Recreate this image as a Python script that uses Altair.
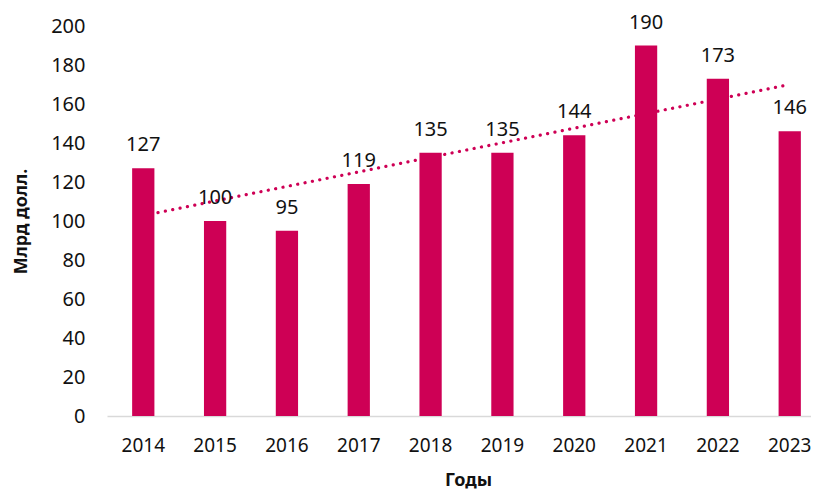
import altair as alt
import pandas as pd

years = ["2014", "2015", "2016", "2017", "2018", "2019", "2020", "2021", "2022", "2023"]
values = [127, 100, 95, 119, 135, 135, 144, 190, 173, 146]
y_ticks = [0, 20, 40, 60, 80, 100, 120, 140, 160, 180, 200]

df = pd.DataFrame({"year": years, "yr": [int(y) for y in years], "value": values})

BAR = "#CE0055"
FONT = "Noto Sans"

xscale = alt.Scale(domain=years, range=[0, 719], paddingInner=0.69, paddingOuter=0.35)
yscale = alt.Scale(domain=[0, 200])

x_enc = alt.X(
    "year:N",
    scale=xscale,
    axis=alt.Axis(
        title="Годы",
        labelAngle=0,
        labelAlign="center",
        labelBaseline="middle",
        labelFontSize=19,
        labelFont=FONT,
        labelColor="#111111",
        labelPadding=29,
        ticks=False,
        domainColor="#D9D9D9",
        domainWidth=1.5,
        titleFont=FONT,
        titleFontSize=18,
        titleFontWeight="bold",
        titleColor="#111111",
        titleX=361,
        titleY=64,
        titleBaseline="middle",
        titleAlign="center",
    ),
)
y_enc = alt.Y(
    "value:Q",
    scale=yscale,
    axis=alt.Axis(
        title="Млрд долл.",
        values=y_ticks,
        grid=False,
        domain=False,
        ticks=False,
        labelOverlap=False,
        labelAlign="right",
        labelBaseline="middle",
        labelFontSize=20,
        labelFont=FONT,
        labelColor="#111111",
        labelPadding=22,
        titleFont=FONT,
        titleFontSize=18,
        titleFontWeight="bold",
        titleColor="#111111",
        titleAngle=-90,
        titleX=-86,
        titleY=195,
        titleAlign="center",
        titleBaseline="middle",
    ),
)

base = alt.Chart(df)

trend = (
    base.transform_regression("yr", "value", extent=[2014, 2023], method="linear")
    .transform_calculate(year="toString(datum.yr)")
    .mark_line(color=BAR, strokeWidth=3.2, strokeDash=[0.1, 7.4], strokeCap="round")
)

bars = base.mark_bar(color=BAR)

labels = base.mark_text(
    font=FONT, fontSize=20, color="#111111", baseline="alphabetic", dy=-17
).encode(text="value:Q")

chart = (
    alt.layer(trend, bars, labels)
    .encode(x=x_enc, y=y_enc)
    .properties(
        width=704,
        height=390,
        padding={"left": 99, "top": 18, "right": 0, "bottom": 76},
        autosize=alt.AutoSizeParams(type="none"),
    )
    .configure_view(stroke=None)
)

chart.save("out.html", embed_options={"renderer": "svg", "actions": False})
